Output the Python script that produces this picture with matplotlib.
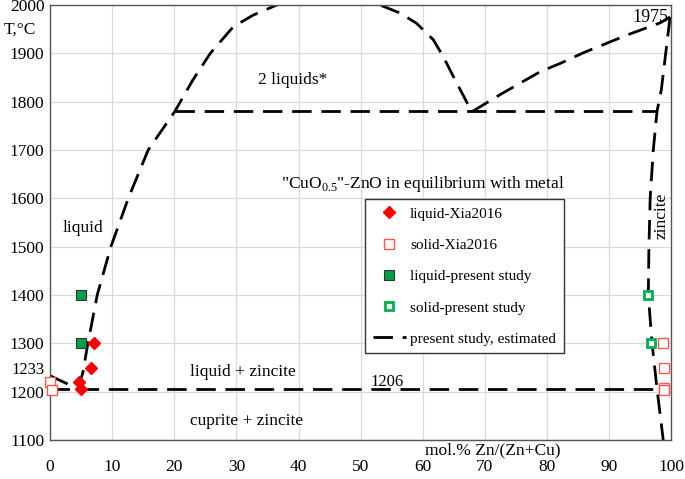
import matplotlib
matplotlib.use("Agg")
import matplotlib.pyplot as plt
import numpy as np

plt.rcParams['font.family'] = ['Liberation Serif', 'DejaVu Serif']
plt.rcParams['mathtext.fontset'] = 'custom'
plt.rcParams['mathtext.rm'] = 'Liberation Serif'

# --- data ---
liq_xia_x = [7.1, 6.6, 4.7, 5.0]
liq_xia_T = [1300, 1248, 1220, 1206]
sol_xia_x = [0.0, 0.3, 98.6, 98.9, 98.9, 98.9]
sol_xia_T = [1221, 1203, 1300, 1248, 1208, 1203]
liq_ps_x = [5.0, 5.0]
liq_ps_T = [1400, 1300]
sol_ps_x = [96.3, 96.8]
sol_ps_T = [1400, 1300]

# estimated phase boundaries (present study)
eut_x = [0.0, 4.5]
eut_T = [1233, 1206]
iso1206_x = [0.0, 97.7]
iso1206_T = [1206, 1206]
liq_dome_x = [4.5, 5.3, 6.0, 7.6, 9.8, 12.6, 15.8, 20.1, 23.0, 25.8, 29.5, 32.7, 36.5,
              40.0, 44.5, 49.0, 53.1, 56.4, 59.0, 61.7, 63.3, 65.2, 67.9]
liq_dome_T = [1206, 1240, 1293, 1400, 1500, 1600, 1700, 1780, 1845, 1900, 1955, 1979, 2000,
              2013, 2018, 2012, 2000, 1983, 1962, 1928, 1893, 1845, 1779]
zn_liq_x = [67.9, 72.5, 78.9, 82.1, 86.0, 92.9, 98.2, 99.8]
zn_liq_T = [1779, 1815, 1862, 1879, 1902, 1938, 1963, 1975]
iso1780_x = [20.1, 97.7]
iso1780_T = [1780, 1780]
zincite_x = [99.8, 98.4, 97.7, 97.1, 96.6, 96.4, 96.3, 96.9, 97.7, 98.7]
zincite_T = [1975, 1825, 1780, 1700, 1600, 1500, 1400, 1300, 1206, 1100]

xticks = list(range(0, 101, 10))
yticks = list(range(1100, 2001, 100))

fig = plt.figure(figsize=(6.85, 4.79), dpi=100)
ax = fig.add_axes([0.073, 0.0814, 0.907, 0.9082])
ax.set_xlim(0, 100)
ax.set_ylim(1100, 2000)
ax.set_xticks(xticks)
ax.set_yticks(yticks)
ax.grid(True, color='#d9d9d9', lw=0.9)
ax.set_axisbelow(True)
ax.tick_params(length=0, labelsize=12.5)
ax.tick_params(axis='x', pad=14)
ax.tick_params(axis='y', pad=4)
for s in ax.spines.values():
    s.set_color('#555555')
    s.set_linewidth(1.0)

ls = dict(color='black', lw=2.0, dashes=(7, 3.5), clip_on=True, solid_joinstyle='round')
ax.plot(eut_x, eut_T, **ls)
ax.plot(iso1206_x, iso1206_T, **ls)
ax.plot(liq_dome_x, liq_dome_T, **ls)
ax.plot(zn_liq_x, zn_liq_T, **ls)
ax.plot(iso1780_x, iso1780_T, **ls)
ax.plot(zincite_x, zincite_T, label='present study, estimated', **ls)

ax.plot(liq_xia_x, liq_xia_T, 'D', color='red', ms=6.5, mec='red', ls='none',
        label='liquid-Xia2016', zorder=5, clip_on=False)
ax.plot(sol_xia_x, sol_xia_T, 's', mfc='white', mec='#ff5555', ms=7.5, mew=1.0, ls='none',
        label='solid-Xia2016', zorder=5, clip_on=False)
ax.plot(liq_ps_x, liq_ps_T, 's', mfc='#00a04a', mec='#333333', ms=7, mew=0.8, ls='none',
        label='liquid-present study', zorder=5)
ax.plot(sol_ps_x, sol_ps_T, 's', mfc='white', mec='#00b050', ms=6, mew=2.0, ls='none',
        label='solid-present study', zorder=5)

handles, labels = ax.get_legend_handles_labels()
order = [1, 2, 3, 4, 0]
leg = ax.legend([handles[i] for i in order], [labels[i] for i in order],
                loc='upper left', bbox_to_anchor=(0.507, 0.553), fontsize=11,
                labelspacing=1.15, handlelength=2.2, handletextpad=0.25,
                borderpad=0.5, borderaxespad=0.0,
                fancybox=False, framealpha=1, edgecolor='#333333')
leg.get_frame().set_linewidth(1.0)

fs = 12.5
ax.text(39, 1845, '2 liquids*', fontsize=fs, ha='center', va='center')
ax.text(60, 1630, '"CuO$_{0.5}$"-ZnO in equilibrium with metal', fontsize=fs,
        ha='center', va='center')
ax.text(2, 1539, 'liquid', fontsize=fs, ha='left', va='center')
ax.text(31, 1241, 'liquid + zincite', fontsize=fs, ha='center', va='center')
ax.text(54.3, 1220, '1206', fontsize=12, ha='center', va='center')
ax.text(31.7, 1140, 'cuprite + zincite', fontsize=fs, ha='center', va='center')
ax.text(-0.8, 1245, '1233', fontsize=12, ha='right', va='center', clip_on=False)
ax.text(96.6, 1975, '1975', fontsize=13, ha='center', va='center')
ax.text(98.5, 1563, 'zincite', fontsize=fs, ha='center', va='center', rotation=90)
ax.text(71.2, 1079, 'mol.% Zn/(Zn+Cu)', fontsize=fs, ha='center', va='center', clip_on=False)
ax.text(-2.3, 1948, 'T,°C', fontsize=12.5, ha='right', va='center', clip_on=False)

fig.savefig('out.png', dpi=100)
